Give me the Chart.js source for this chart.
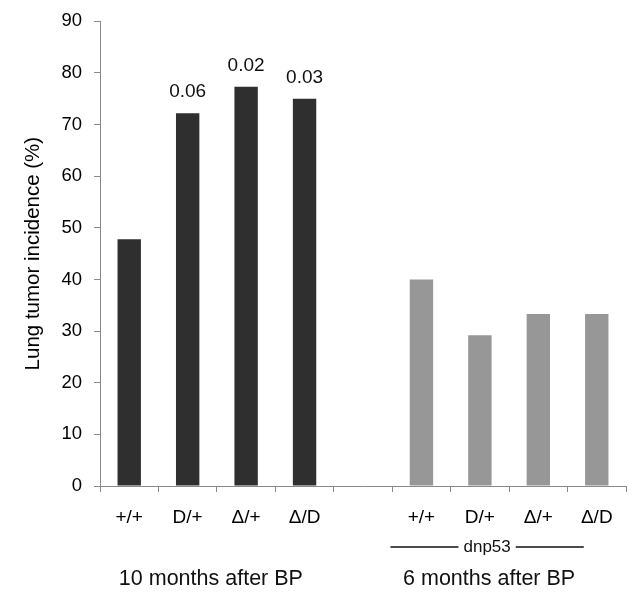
<!DOCTYPE html>
<html>
<head>
<meta charset="utf-8">
<script src="https://cdn.jsdelivr.net/npm/chart.js@4.4.0/dist/chart.umd.min.js"></script>
<style>
  html, body { margin: 0; padding: 0; background: #fff; }
  #wrap { width: 633px; height: 592px; }
</style>
</head>
<body>
<div id="wrap"><canvas id="c" width="633" height="592"></canvas></div>
<script>
// genotype labels (empty slot separates the two cohorts)
const genotypes = ['+/+', 'D/+', 'Δ/+', 'Δ/D', '', '+/+', 'D/+', 'Δ/+', 'Δ/D'];
// lung tumor incidence (%)
const incidence = [47.8, 72.2, 77.3, 75.0, null, 40.0, 29.2, 33.3, 33.3];
// p-values printed above bars
const pValues = ['', '0.06', '0.02', '0.03', '', '', '', '', ''];
const barColors = ['#2f2f2f', '#2f2f2f', '#2f2f2f', '#2f2f2f', '#2f2f2f', '#979797', '#979797', '#979797', '#979797'];
const groups = [
  { label: '10 months after BP', from: 0, to: 3 },
  { label: '6 months after BP', from: 5, to: 8 }
];
const yTicks = [0, 10, 20, 30, 40, 50, 60, 70, 80, 90];

const FONT = "'Liberation Sans', Arial, sans-serif";

const extras = {
  id: 'extras',
  afterDatasetsDraw(chart) {
    const ctx = chart.ctx;
    const x = chart.scales.x, y = chart.scales.y;
    ctx.save();
    ctx.fillStyle = '#111';
    ctx.textAlign = 'center';
    ctx.textBaseline = 'middle';
    // p-values
    ctx.font = '19px ' + FONT;
    pValues.forEach((p, i) => {
      if (!p) return;
      ctx.fillText(p, x.getPixelForValue(i), y.getPixelForValue(incidence[i]) - 21);
    });
    // dnp53 bracket
    const x0 = x.getPixelForValue(5) - 31, x1 = x.getPixelForValue(8) - 13;
    const mid = (x0 + x1) / 2, ly = 547;
    ctx.font = '17px ' + FONT;
    const tw = ctx.measureText('dnp53').width;
    ctx.strokeStyle = '#111';
    ctx.lineWidth = 1.6;
    ctx.beginPath();
    ctx.moveTo(x0, ly); ctx.lineTo(mid - tw / 2 - 5, ly);
    ctx.moveTo(mid + tw / 2 + 5, ly); ctx.lineTo(x1, ly);
    ctx.stroke();
    ctx.fillText('dnp53', mid, ly);
    // group labels
    ctx.font = '21.5px ' + FONT;
    groups.forEach(g => {
      const cx = (x.getPixelForValue(g.from) + x.getPixelForValue(g.to)) / 2 - (g.from ? 20 : 6);
      ctx.fillText(g.label, cx, 579);
    });
    ctx.restore();
  }
};

new Chart(document.getElementById('c'), {
  type: 'bar',
  data: {
    labels: genotypes,
    datasets: [{
      data: incidence,
      backgroundColor: barColors,
      borderWidth: 0,
      barPercentage: 0.4,
      categoryPercentage: 1.0
    }]
  },
  options: {
    responsive: false,
    animation: false,
    layout: { padding: { top: 19, right: 7, left: 0, bottom: 0 } },
    plugins: { legend: { display: false }, tooltip: { enabled: false } },
    scales: {
      x: {
        offset: true,
        grid: { offset: true, drawOnChartArea: false, tickLength: 6, color: '#8a8a8a', lineWidth: 1 },
        border: { color: '#8a8a8a', width: 1 },
        ticks: { color: '#000', font: { family: FONT, size: 19 }, padding: 14, maxRotation: 0, autoSkip: false },
        afterFit(s) { s.height = 106; }
      },
      y: {
        min: 0, max: 90,
        afterBuildTicks(s) { s.ticks = yTicks.map(v => ({ value: v })); },
        grid: { drawOnChartArea: false, tickLength: 6, color: '#8a8a8a', lineWidth: 1 },
        border: { color: '#8a8a8a', width: 1 },
        ticks: { color: '#000', font: { family: FONT, size: 18.5, lineHeight: 1 }, padding: 12 },
        title: {
          display: true, text: 'Lung tumor incidence (%)', color: '#000',
          font: { family: FONT, size: 20.5 }, padding: { top: 21, bottom: 0 }
        },
        afterFit(s) { s.width = 100; }
      }
    }
  },
  plugins: [extras]
});
</script>
</body>
</html>
